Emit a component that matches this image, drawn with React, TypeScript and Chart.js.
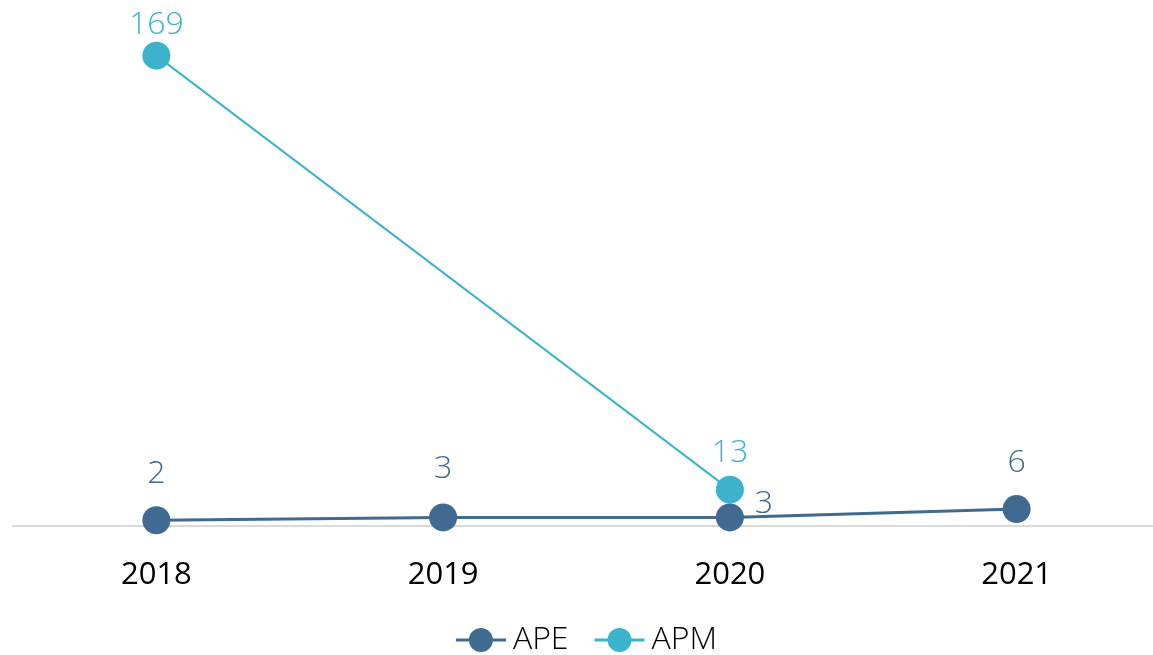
import React, { useEffect, useRef } from "react";
import { Chart, registerables } from "chart.js";

Chart.register(...registerables);

const categories = ["2018", "2019", "2020", "2021"];
const apeValues: (number | null)[] = [2, 3, 3, 6];
const apmValues: (number | null)[] = [169, null, 13, null];

const APE_COLOR = "#416a90";
const APM_COLOR = "#3cb3cb";
const FONT = "'Open Sans', 'DejaVu Sans', sans-serif";

// label placement offsets (dx, dy) from the point centre, per dataset/point
const labelPlacement: ([number, number] | null)[][] = [
  [[0, -46], [0, -49], [34, -14], [0, -46]],
  [[0, -31], null, [0, -37], null],
];

const labelPlugin = {
  id: "pointLabels",
  afterDatasetsDraw(chart: any) {
    const ctx = chart.ctx;
    chart.data.datasets.forEach((ds: any, di: number) => {
      const meta = chart.getDatasetMeta(di);
      meta.data.forEach((pt: any, i: number) => {
        const v = ds.data[i];
        const place = labelPlacement[di][i];
        if (v == null || !place) return;
        ctx.save();
        ctx.font = `300 32px ${FONT}`;
        ctx.fillStyle = ds.borderColor;
        ctx.textAlign = "center";
        ctx.textBaseline = "middle";
        ctx.fillText(String(v), pt.x + place[0], pt.y + place[1]);
        ctx.restore();
      });
    });
  },
};

const legendPlugin = {
  id: "lineLegend",
  afterDraw(chart: any) {
    const ctx = chart.ctx;
    const y = 640;
    const lineW = 50;
    const gapText = 7;
    const gapItems = 26;
    ctx.save();
    ctx.font = `300 32px ${FONT}`;
    const items = chart.data.datasets.map((ds: any) => ({
      label: ds.label,
      color: ds.borderColor,
      w: lineW + gapText + ctx.measureText(ds.label).width,
    }));
    const total = items.reduce((s: number, it: any) => s + it.w, 0) + gapItems * (items.length - 1);
    let x = (chart.chartArea.left + chart.chartArea.right) / 2 - total / 2;
    items.forEach((it: any) => {
      ctx.strokeStyle = it.color;
      ctx.lineWidth = 3;
      ctx.beginPath();
      ctx.moveTo(x, y);
      ctx.lineTo(x + lineW, y);
      ctx.stroke();
      ctx.fillStyle = it.color;
      ctx.beginPath();
      ctx.arc(x + lineW / 2, y, 12, 0, Math.PI * 2);
      ctx.fill();
      ctx.fillStyle = "#000";
      ctx.textAlign = "left";
      ctx.textBaseline = "middle";
      ctx.fillText(it.label, x + lineW + gapText, y);
      x += it.w + gapItems;
    });
    ctx.restore();
  },
};

export default function App() {
  const ref = useRef<HTMLCanvasElement>(null);
  useEffect(() => {
    document.body.style.margin = "0";
    const chart = new Chart(ref.current!, {
      type: "line",
      data: {
        labels: categories,
        datasets: [
          {
            label: "APE",
            data: apeValues,
            borderColor: APE_COLOR,
            backgroundColor: APE_COLOR,
            borderWidth: 3,
            pointRadius: 14,
            pointHoverRadius: 14,
            pointBorderWidth: 0,
            spanGaps: true,
            clip: false,
          },
          {
            label: "APM",
            data: apmValues,
            borderColor: APM_COLOR,
            backgroundColor: APM_COLOR,
            borderWidth: 2,
            pointRadius: 14,
            pointHoverRadius: 14,
            pointBorderWidth: 0,
            spanGaps: true,
            clip: false,
          },
        ],
      },
      options: {
        responsive: false,
        animation: false,
        layout: { autoPadding: false, padding: { left: 13, right: 0, top: 0, bottom: 30 } },
        plugins: { legend: { display: false }, tooltip: { enabled: false } },
        scales: {
          x: {
            offset: true,
            grid: { display: false, drawTicks: false },
            border: { display: true, color: "#d9d9d9", width: 2 },
            ticks: { color: "#000", padding: 31, font: { family: FONT, size: 31, weight: "normal" } },
          },
          y: {
            display: false,
            min: 0,
            max: 189,
          },
        },
      },
      plugins: [labelPlugin, legendPlugin],
    });
    return () => chart.destroy();
  }, []);
  return (
    <div style={{ width: 1153, height: 655, overflow: "hidden" }}>
      <canvas ref={ref} width={1160} height={655} style={{ display: "block" }} />
    </div>
  );
}
